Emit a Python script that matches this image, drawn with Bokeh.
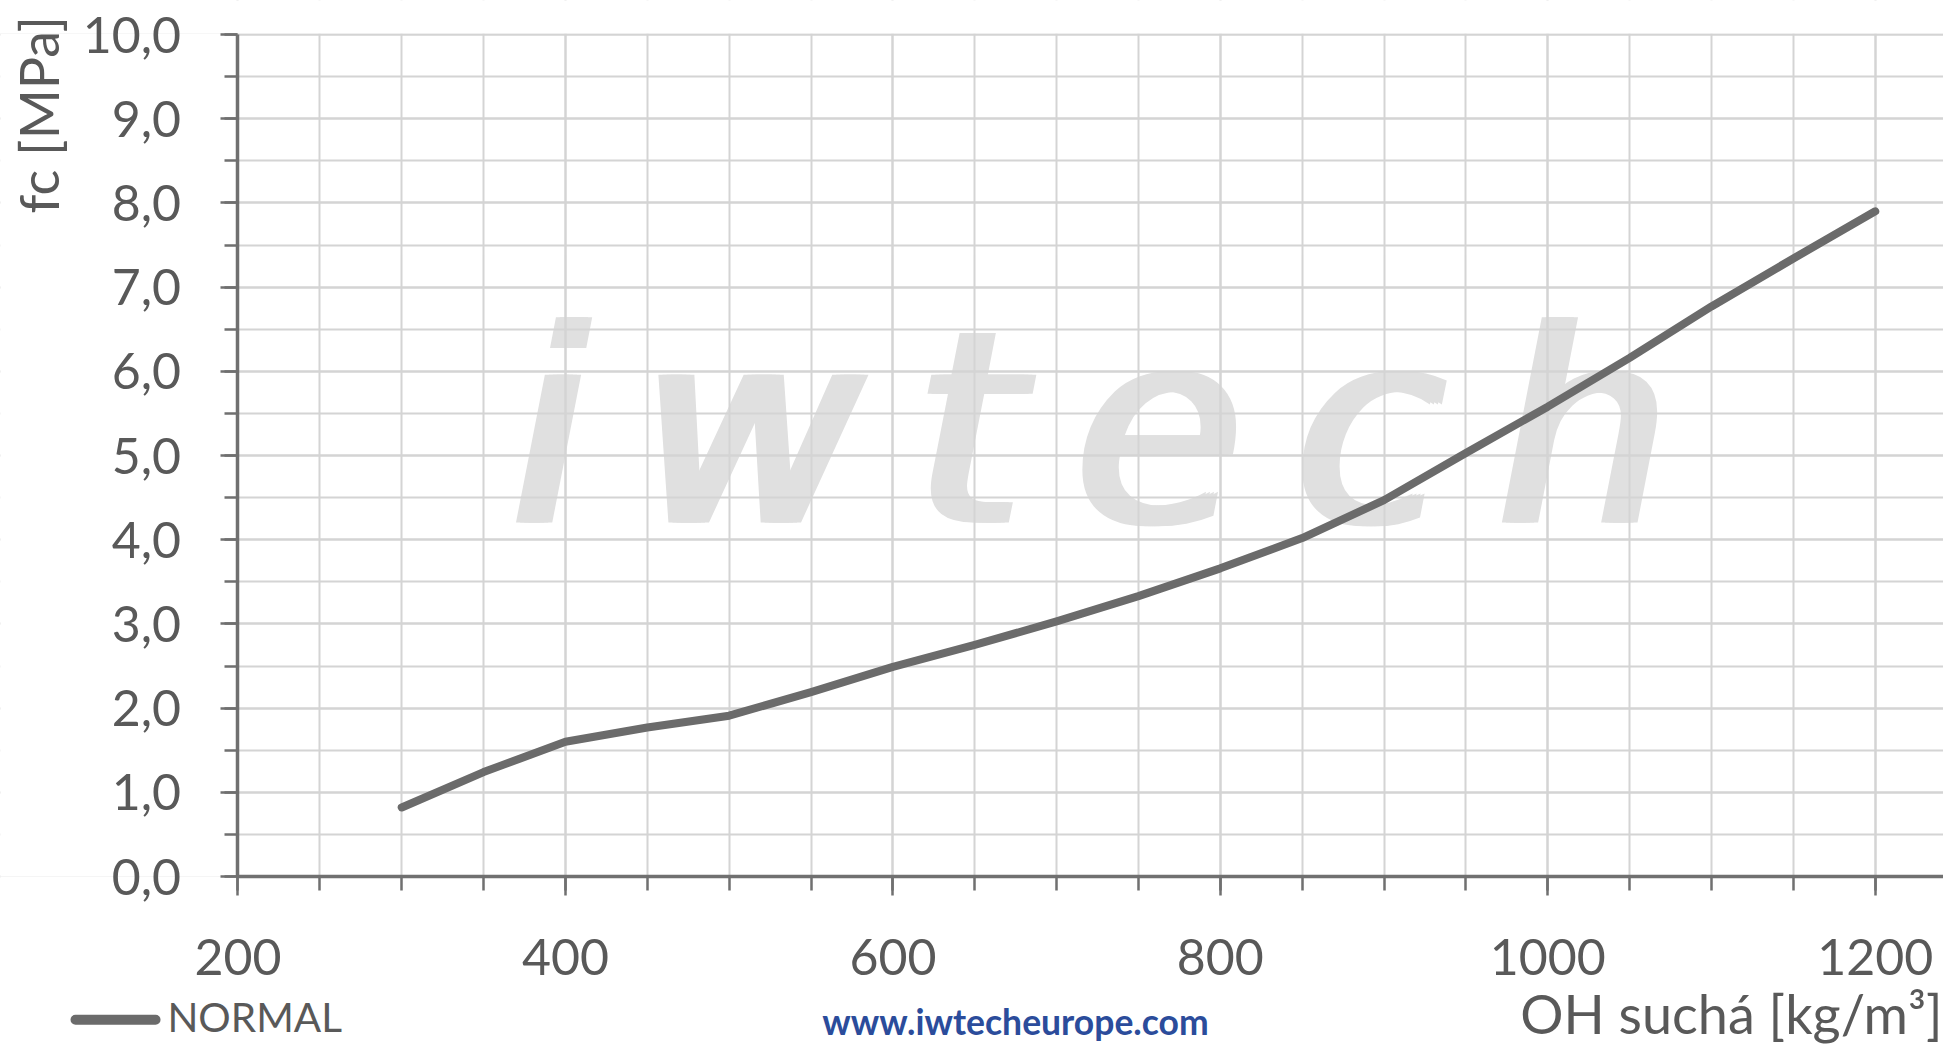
from bokeh.plotting import figure
from bokeh.models import (SingleIntervalTicker, CustomJSTickFormatter, Label,
                          BoxAnnotation, Range1d)
from bokeh.embed import file_html
from bokeh.resources import INLINE

# ---- data ----
density = [300, 350, 400, 450, 500, 550, 600, 650, 700, 750,
           800, 850, 900, 950, 1000, 1050, 1100, 1150, 1200]
fc = [0.82, 1.24, 1.60, 1.77, 1.91, 2.19, 2.49, 2.75, 3.03, 3.33,
      3.66, 4.02, 4.47, 5.03, 5.58, 6.16, 6.77, 7.34, 7.90]
series_name = "NORMAL"
x_title = "OH suchá [kg/m³]"
y_title = "fc [MPa]"
url_text = "www.iwtecheurope.com"
watermark = "i\u2009w\u2009t\u2009e\u2009c\u2009h"

# plotted region of the chart
X_MIN, X_MAX = 200, 1250
Y_MIN, Y_MAX = 0, 10
# the frame spans the whole canvas so that the outside texts are not clipped
VIEW_X = (54.94, 1241.7)
VIEW_Y = (-2.007, 10.404)

FONT = "Lato"
TXT = "#595959"
GRID = "#d4d4d4"
AXIS = "#707070"
LINE = "#6b6b6b"

p = figure(width=1943, height=1045, output_backend="svg", toolbar_location=None,
           x_range=Range1d(*VIEW_X), y_range=Range1d(*VIEW_Y),
           min_border=0, min_border_left=0, min_border_right=0,
           min_border_top=0, min_border_bottom=0)
p.background_fill_color = "white"
p.border_fill_color = "white"
p.outline_line_color = None

# watermark, drawn under the grid; offset copies make the strokes heavier
for dx in (0, 4, 8, 12):
    p.add_layout(Label(x=364, y=5.315, x_offset=dx, text=watermark,
                       text_font="DejaVu Sans", text_font_style="italic",
                       text_font_size="270px", text_color="#e0e0e0",
                       text_align="left", text_baseline="middle",
                       level="image"))

# grid
for g in (p.xgrid[0], p.ygrid[0]):
    g.grid_line_color = GRID
    g.grid_line_width = 2
    g.minor_grid_line_color = GRID
    g.minor_grid_line_width = 2

# white masks: keep the grid inside the plotted region only
mask = dict(fill_color="white", fill_alpha=1, line_alpha=0, level="underlay")
p.add_layout(BoxAnnotation(left=VIEW_X[0], right=VIEW_X[1], bottom=VIEW_Y[0],
                           top=Y_MIN, **mask))
p.add_layout(BoxAnnotation(left=VIEW_X[0], right=VIEW_X[1], bottom=Y_MAX + 0.012,
                           top=VIEW_Y[1], **mask))
p.add_layout(BoxAnnotation(left=VIEW_X[0], right=X_MIN, bottom=Y_MIN,
                           top=Y_MAX + 0.012, **mask))

p.line(density, fc, line_color=LINE, line_width=8,
       line_cap="round", line_join="round")

# axes, pinned to the corner of the plotted region
xa = p.xaxis[0]
xa.fixed_location = Y_MIN
xa.bounds = (X_MIN, X_MAX)
xa.ticker = SingleIntervalTicker(interval=200, num_minor_ticks=4)
ya = p.yaxis[0]
ya.fixed_location = X_MIN
ya.bounds = (Y_MIN, Y_MAX)
ya.ticker = SingleIntervalTicker(interval=1, num_minor_ticks=2)
ya.formatter = CustomJSTickFormatter(code="return tick.toFixed(1).replace('.', ',');")
for ax in (xa, ya):
    ax.axis_line_color = AXIS
    ax.axis_line_width = 3.5
    ax.major_tick_line_color = AXIS
    ax.minor_tick_line_color = AXIS
    ax.major_tick_line_width = 2.5
    ax.minor_tick_line_width = 2.5
    ax.major_tick_in = 0
    ax.minor_tick_in = 0
    ax.major_label_text_font = FONT
    ax.major_label_text_font_size = "50px"
    ax.major_label_text_color = TXT
xa.major_tick_out = 19
xa.minor_tick_out = 14
xa.major_label_standoff = 43
ya.major_tick_out = 17
ya.minor_tick_out = 13
ya.major_label_standoff = 40

# axis titles
p.add_layout(Label(x=78.3, y=7.874, text=y_title, angle=90, angle_units="deg",
                   text_font=FONT, text_font_size="54px", text_color=TXT,
                   text_align="left", text_baseline="middle"))
p.add_layout(Label(x=1241.1, y=-1.625, text=x_title, text_font=FONT,
                   text_font_size="54px", text_color=TXT,
                   text_align="right", text_baseline="middle"))
# footer: web address and legend
p.add_layout(Label(x=674.9, y=-1.725, text=url_text, text_font=FONT,
                   text_font_style="bold", text_font_size="35.5px",
                   text_color="#2b4c9b", text_align="center",
                   text_baseline="middle"))
p.add_layout(BoxAnnotation(left=97.7, right=152.7, bottom=-1.761, top=-1.642,
                           fill_color=LINE, fill_alpha=1, line_alpha=0,
                           border_radius=5))
p.add_layout(Label(x=156.9, y=-1.665, text=series_name, text_font=FONT,
                   text_font_size="40.5px", text_color=TXT,
                   text_align="left", text_baseline="middle"))

open("out.html", "w").write(file_html(p, INLINE))
